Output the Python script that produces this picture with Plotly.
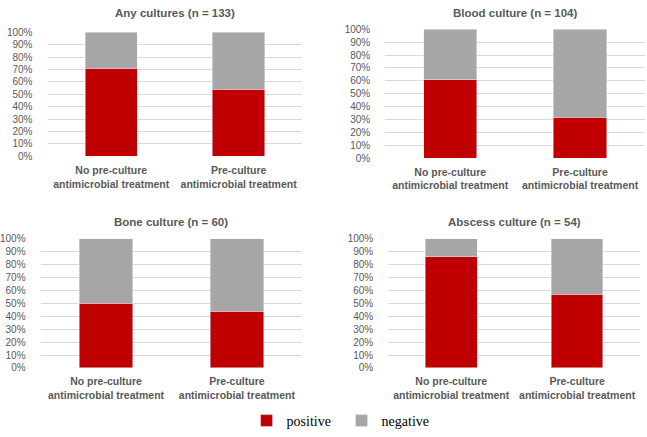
import plotly.graph_objects as go

categories = ["No pre-culture<br>antimicrobial treatment", "Pre-culture<br>antimicrobial treatment"]
titles = ["Any cultures (n = 133)", "Blood culture (n = 104)", "Bone culture (n = 60)", "Abscess culture (n = 54)"]
positive = [[71, 54], [61, 32], [50, 44], [86, 57]]
negative = [[29, 46], [39, 68], [50, 56], [14, 43]]
y_ticks = [0, 10, 20, 30, 40, 50, 60, 70, 80, 90, 100]
y_ticklabels = [f"{v}%" for v in y_ticks]

W, H = 647, 437
# panel pixel boxes: (x0, x1, ytop, ybottom, title_y)
boxes = [(40, 298, 27, 155, 7), (382, 645, 24, 157, 7), (33, 298, 240, 373, 223), (385, 640, 240, 373, 223)]

RED = "#C00000"
GRAY = "#A6A6A6"
TXT = "#595959"
FONT = "Liberation Sans"

fig = go.Figure()
annotations = []
for i, (x0, x1, yt, yb, ty) in enumerate(boxes):
    xa = "x" if i == 0 else f"x{i+1}"
    ya = "y" if i == 0 else f"y{i+1}"
    xd = [x0 / W, x1 / W]
    yd = [1 - yb / H, 1 - yt / H]
    fig.add_trace(go.Bar(x=[0, 1], y=positive[i], name="positive", marker_color=RED,
                         width=0.41, xaxis=xa, yaxis=ya, showlegend=(i == 0),
                         legendgroup="pos"))
    fig.add_trace(go.Bar(x=[0, 1], y=negative[i], name="negative", marker_color=GRAY,
                         width=0.41, xaxis=xa, yaxis=ya, showlegend=(i == 0),
                         legendgroup="neg"))
    xkey = "xaxis" if i == 0 else f"xaxis{i+1}"
    ykey = "yaxis" if i == 0 else f"yaxis{i+1}"
    fig.layout[xkey] = dict(domain=xd, anchor=ya, range=[-0.5, 1.5],
                            tickvals=[0, 1], ticktext=[f"<b>{c}</b>" for c in categories],
                            tickfont=dict(family=FONT, size=10.5, color=TXT),
                            showgrid=False, zeroline=False, showline=False, ticks="",
                            ticklabelstandoff=6)
    fig.layout[ykey] = dict(domain=yd, anchor=xa, range=[0, 100],
                            tickvals=y_ticks, ticktext=y_ticklabels,
                            tickfont=dict(family=FONT, size=10, color=TXT),
                            showgrid=True, gridcolor="#D9D9D9", gridwidth=1,
                            zeroline=False, showline=False, ticks="",
                            ticklabelstandoff=14)
    annotations.append(dict(text=f"<b>{titles[i]}</b>", x=(x0 + x1) / 2 / W,
                            y=1 - ty / H, xref="paper", yref="paper",
                            xanchor="center", yanchor="middle", showarrow=False,
                            font=dict(family=FONT, size=11.5, color=TXT)))

fig.update_layout(
    barmode="stack",
    width=W, height=H,
    margin=dict(l=0, r=0, t=0, b=0),
    paper_bgcolor="white", plot_bgcolor="white",
    annotations=annotations,
    legend=dict(orientation="h", x=0.522, y=1 - 428 / H, xanchor="center", yanchor="middle",
                font=dict(family="Liberation Serif", size=14, color="black"),
                traceorder="normal", itemwidth=30, entrywidth=50, entrywidthmode="pixels"),
)
fig.write_html("out.html")
